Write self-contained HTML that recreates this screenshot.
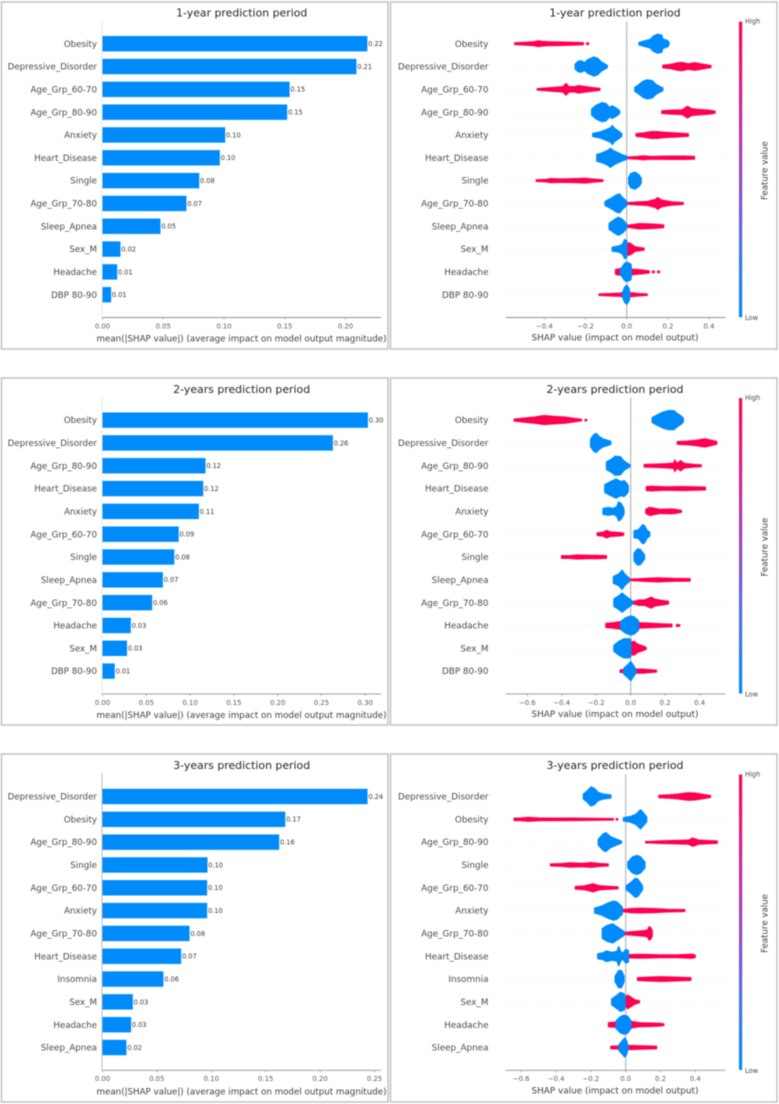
<!DOCTYPE html>
<html lang="en">
<head>
<meta charset="utf-8">
<title>SHAP feature importance by prediction period</title>
<style>
html,body{margin:0;padding:0;background:#fff;}
#chart{display:block;width:779px;height:1104px;filter:blur(0.4px);font-family:"DejaVu Sans","Liberation Sans",sans-serif;}
</style>
</head>
<body>
<svg id="chart" xmlns="http://www.w3.org/2000/svg" width="779" height="1104" viewBox="0 0 779 1104">
<defs>
<linearGradient id="cbar" x1="0" y1="1" x2="0" y2="0">
<stop offset="0" stop-color="#008bfb"/>
<stop offset="0.25" stop-color="#4b6fe6"/>
<stop offset="0.5" stop-color="#9a46bd"/>
<stop offset="0.75" stop-color="#d81f8a"/>
<stop offset="1" stop-color="#ff0051"/>
</linearGradient>
</defs>
</svg>
<script>
const features1 = ["Obesity","Depressive_Disorder","Age_Grp_60-70","Age_Grp_80-90","Anxiety","Heart_Disease","Single","Age_Grp_70-80","Sleep_Apnea","Sex_M","Headache","DBP 80-90"];
const features2 = ["Obesity","Depressive_Disorder","Age_Grp_80-90","Heart_Disease","Anxiety","Age_Grp_60-70","Single","Sleep_Apnea","Age_Grp_70-80","Headache","Sex_M","DBP 80-90"];
const features3 = ["Depressive_Disorder","Obesity","Age_Grp_80-90","Single","Age_Grp_60-70","Anxiety","Age_Grp_70-80","Heart_Disease","Insomnia","Sex_M","Headache","Sleep_Apnea"];

const means1 = [0.218,0.209,0.154,0.152,0.101,0.0966,0.0796,0.0691,0.0477,0.0148,0.0121,0.0071];
const means2 = [0.303,0.263,0.1176,0.115,0.110,0.087,0.082,0.069,0.0567,0.0323,0.028,0.014];
const means3 = [0.2436,0.168,0.1624,0.0965,0.0962,0.0962,0.08,0.0723,0.056,0.0279,0.0263,0.022];

const printed1 = ["0.22","0.21","0.15","0.15","0.10","0.10","0.08","0.07","0.05","0.02","0.01","0.01"];
const printed2 = ["0.30","0.26","0.12","0.12","0.11","0.09","0.08","0.07","0.06","0.03","0.03","0.01"];
const printed3 = ["0.24","0.17","0.16","0.10","0.10","0.10","0.08","0.07","0.06","0.03","0.03","0.02"];

const barTicks1 = [0,0.05,0.10,0.15,0.20];
const barTicks2 = [0,0.05,0.10,0.15,0.20,0.25,0.30];
const barTicks3 = [0,0.05,0.10,0.15,0.20,0.25];
const swarmTicks1 = [-0.4,-0.2,0,0.2,0.4];
const swarmTicks2 = [-0.6,-0.4,-0.2,0,0.2,0.4];
const swarmTicks3 = [-0.6,-0.4,-0.2,0,0.2,0.4];

/* Beeswarm outlines: each row is a list of [SHAP value, relative density]; density 0 separates clusters. */
const swarmHigh1 = [
[[-.545,.13],[-.5,.2],[-.45,.3],[-.43,.42],[-.41,.35],[-.38,.3],[-.3,.25],[-.25,.2],[-.21,.15],[-.2,0],[-.195,.15],[-.185,.12]],
[[.175,.2],[.21,.3],[.25,.55],[.27,.6],[.3,.4],[.33,.55],[.36,.4],[.39,.25],[.41,.15]],
[[-.435,.12],[-.4,.2],[-.35,.3],[-.31,.4],[-.295,.85],[-.28,.4],[-.25,.4],[-.235,.55],[-.2,.4],[-.16,.25],[-.13,.15]],
[[.17,.2],[.22,.3],[.27,.35],[.295,.85],[.315,.5],[.35,.4],[.4,.3],[.43,.15]],
[[.045,.2],[.08,.3],[.12,.5],[.15,.5],[.18,.4],[.25,.28],[.3,.2]],
[[0,.12],[.05,.2],[.08,.3],[.12,.2],[.2,.25],[.28,.25],[.33,.2]],
[[-.44,.12],[-.39,.2],[-.37,.3],[-.32,.25],[-.24,.3],[-.2,.35],[-.17,.25],[-.115,.12]],
[[0,.12],[.05,.22],[.1,.3],[.14,.6],[.15,.85],[.17,.5],[.22,.25],[.275,.15]],
[[0,.15],[.04,.3],[.06,.4],[.1,.35],[.14,.3],[.18,.2]],
[[0,.8],[.01,.9],[.02,.8],[.04,.35],[.06,.25],[.085,.15]],
[[-.055,.35],[-.03,.5],[0,.5],[.03,.4],[.07,.3],[.11,.15],[.118,0],[.125,.15],[.135,.12],[.142,0],[.15,.12],[.16,.12]],
[[-.135,.12],[-.08,.18],[-.03,.25],[0,.5],[.02,.3],[.06,.18],[.1,.12]]
];
const swarmLow1 = [
[[.06,.12],[.09,.3],[.115,.45],[.13,.8],[.15,1],[.17,.9],[.175,.5],[.2,.3],[.205,.12]],
[[-.25,.25],[-.235,.55],[-.22,.6],[-.205,.4],[-.19,.7],[-.16,1],[-.14,.85],[-.125,.5],[-.11,.3],[-.095,.12]],
[[.04,.2],[.06,.5],[.08,.85],[.1,1],[.125,.9],[.14,.55],[.16,.3],[.175,.15]],
[[-.17,.3],[-.15,.7],[-.12,1],[-.1,.9],[-.085,.5],[-.07,.65],[-.05,.4],[-.035,.15]],
[[-.165,.15],[-.13,.3],[-.1,.55],[-.075,.8],[-.07,1],[-.06,.7],[-.04,.4],[-.025,.15]],
[[-.145,.35],[-.12,.5],[-.09,.8],[-.08,1],[-.06,.7],[-.04,.5],[-.02,.3],[0,.15]],
[[.01,.3],[.02,.75],[.04,.9],[.06,.6],[.07,.25]],
[[-.105,.2],[-.07,.6],[-.05,.9],[-.035,1],[-.02,.6],[0,.2]],
[[-.085,.3],[-.06,.7],[-.04,.95],[-.02,.7],[0,.2]],
[[-.07,.2],[-.04,.3],[-.02,.5],[-.01,1],[0,.9]],
[[-.03,.25],[-.01,.9],[0,1],[.01,.95],[.02,.8],[.022,.5]],
[[-.02,.2],[-.01,.8],[0,1],[.01,.7],[.015,.2]]
];
const swarmHigh2 = [
[[-.677,.15],[-.62,.3],[-.56,.45],[-.52,.6],[-.5,.65],[-.45,.55],[-.38,.45],[-.34,.3],[-.285,.12],[-.275,0],[-.265,.12],[-.255,.1]],
[[.27,.2],[.33,.28],[.38,.4],[.43,.6],[.46,.45],[.5,.2]],
[[.078,.2],[.15,.25],[.2,.3],[.25,.4],[.255,.85],[.27,.35],[.29,.75],[.31,.35],[.37,.2],[.41,.15]],
[[.09,.3],[.12,.35],[.2,.25],[.3,.3],[.38,.25],[.435,.2]],
[[.087,.3],[.11,.6],[.13,.5],[.17,.3],[.23,.35],[.26,.3],[.295,.15]],
[[-.195,.2],[-.16,.3],[-.14,.55],[-.12,.35],[-.09,.3],[-.06,.25],[-.04,.15]],
[[-.402,.2],[-.35,.22],[-.31,.3],[-.25,.25],[-.2,.25],[-.14,.2]],
[[-.01,.1],[.05,.18],[.1,.25],[.16,.3],[.25,.22],[.345,.2]],
[[.01,.15],[.05,.4],[.08,.4],[.12,.8],[.14,.5],[.18,.35],[.22,.2]],
[[-.145,.3],[-.1,.4],[-.05,.6],[0,.6],[.05,.4],[.1,.35],[.18,.25],[.24,.2],[.252,0],[.265,.15],[.285,.12]],
[[0,.9],[.02,1],[.04,.6],[.07,.35],[.09,.15]],
[[-.062,.2],[-.03,.25],[0,.4],[.03,.3],[.07,.3],[.15,.15]]
];
const swarmLow2 = [
[[.125,.25],[.16,.6],[.19,.85],[.22,1],[.25,1],[.27,.7],[.29,.45],[.305,.2]],
[[-.232,.4],[-.215,.85],[-.2,1],[-.185,.7],[-.16,.4],[-.14,.3],[-.116,.15]],
[[-.14,.4],[-.11,.7],[-.09,1],[-.06,.95],[-.04,.5],[-.02,.25],[-.005,.1]],
[[-.15,.4],[-.12,.7],[-.085,1],[-.07,.85],[-.05,.7],[-.04,.85],[-.025,.6],[-.015,.3]],
[[-.16,.3],[-.13,.4],[-.1,.3],[-.08,.5],[-.07,1],[-.055,.8],[-.04,.3]],
[[.02,.35],[.045,.45],[.07,1],[.08,.9],[.095,.4],[.11,.2]],
[[.02,.4],[.04,.85],[.055,.8],[.08,.2]],
[[-.1,.35],[-.07,.6],[-.05,1],[-.035,.6],[-.01,.2]],
[[-.097,.4],[-.07,.7],[-.05,1],[-.03,.7],[0,.3],[.01,.15]],
[[-.058,.4],[-.03,.8],[0,1],[.02,.9],[.045,.5]],
[[-.097,.3],[-.07,.7],[-.04,1],[-.01,1],[0,.9]],
[[-.04,.3],[-.015,.7],[0,1],[.015,.6],[.03,.2]]
];
const swarmHigh3 = [
[[.19,.18],[.25,.25],[.3,.35],[.36,.55],[.4,.5],[.45,.3],[.488,.15]],
[[-.642,.18],[-.6,.2],[-.56,.3],[-.5,.2],[-.3,.18],[-.07,.12],[-.062,0],[-.055,.12],[-.045,.1]],
[[.115,.15],[.125,.1],[.2,.2],[.28,.25],[.36,.3],[.385,.6],[.42,.3],[.527,.18]],
[[-.433,.15],[-.37,.2],[-.32,.32],[-.25,.25],[-.2,.35],[-.15,.22],[-.1,.15]],
[[-.29,.2],[-.24,.28],[-.2,.5],[-.19,.6],[-.15,.3],[-.1,.22],[-.044,.15]],
[[-.02,.15],[.03,.3],[.08,.35],[.16,.3],[.24,.2],[.34,.15]],
[[-.01,.15],[.05,.3],[.1,.4],[.125,.5],[.135,1],[.145,.8],[.153,.4]],
[[.015,.25],[.1,.28],[.2,.22],[.3,.22],[.38,.3],[.4,.2]],
[[.067,.2],[.12,.28],[.2,.35],[.28,.3],[.32,.25],[.375,.2]],
[[-.004,.5],[.01,1],[.03,.7],[.05,.35],[.08,.15]],
[[-.1,.3],[-.05,.4],[.04,.45],[.08,.3],[.15,.25],[.2,.2],[.22,.12]],
[[-.086,.2],[-.02,.25],[.03,.3],[.1,.25],[.178,.2]]
];
const swarmLow3 = [
[[-.243,.25],[-.22,.6],[-.2,1],[-.18,.85],[-.16,.45],[-.13,.25],[-.086,.15]],
[[-.013,.15],[.03,.3],[.06,.55],[.085,1],[.1,.7],[.12,.25]],
[[-.157,.3],[-.13,.85],[-.115,1],[-.09,.6],[-.06,.35],[-.025,.1]],
[[.013,.3],[.04,.85],[.065,1],[.085,.85],[.11,.3]],
[[.004,.2],[.03,.55],[.055,1],[.07,.9],[.096,.2]],
[[-.178,.25],[-.14,.45],[-.1,.8],[-.07,1],[-.05,.9],[-.02,.35]],
[[-.134,.5],[-.11,.8],[-.075,1],[-.05,.7],[-.01,.2]],
[[-.16,.25],[-.13,.35],[-.11,.55],[-.08,.4],[-.05,.5],[-.04,1],[-.03,.5],[-.015,.3],[0,.7],[.015,.6]],
[[-.06,.3],[-.04,.9],[-.025,.9],[-.01,.3]],
[[-.08,.3],[-.05,.7],[-.03,1],[-.01,.85],[-.004,.5]],
[[-.054,.4],[-.03,.85],[-.01,1],[.01,.9],[.03,.4]],
[[-.038,.3],[-.015,.8],[-.005,1],[.005,.7],[.012,.2]]
];

const periods = ["1-year prediction period","2-years prediction period","3-years prediction period"];

const svg = document.getElementById('chart');
const NS = 'http://www.w3.org/2000/svg';
const BLUE = '#008bfb', RED = '#ff0051';

function mk(parent, tag, attrs, name, text) {
  const el = document.createElementNS(NS, tag);
  for (const k in attrs) el.setAttribute(k, attrs[k]);
  
  
  if (text !== undefined) el.textContent = text;
  parent.appendChild(el);
  return el;
}
function slug(s) { return s.toLowerCase().replace(/[^a-z0-9]+/g, '-'); }

function label(g, x, y, str, size, fill, anchor, name) {
  return mk(g, 'text', {x: x, y: y + 0.7, 'font-size': size, fill: fill, 'text-anchor': anchor, 'dominant-baseline': 'central'}, name, str);
}

function frame(g, x, y, w, h) {
  mk(g, 'rect', {x: x, y: y, width: w, height: h, fill: '#fff', stroke: '#bcbcbc', 'stroke-width': 1.4}, 'panel-frame');
}

function xAxis(g, xScale, ticks, digits, axisY, x1, x2) {
  mk(g, 'line', {x1: x1, x2: x2, y1: axisY, y2: axisY, stroke: '#8f8f8f', 'stroke-width': 0.9}, 'x-axis-line');
  ticks.forEach(t => {
    const x = xScale(t);
    mk(g, 'line', {x1: x, x2: x, y1: axisY, y2: axisY + 2.2, stroke: '#8f8f8f', 'stroke-width': 0.6}, 'x-tick-mark');
    const s = (t < 0 ? '\u2212' : '') + Math.abs(t).toFixed(digits);
    label(g, x, axisY + 8.2, s, 6.9, '#5c5c5c', 'middle', 'x-tick-label');
  });
}

function drawBarPanel(row, base, features, means, printed, ticks, pxPerUnit) {
  const g = mk(svg, 'g', {}, 'bar-panel-' + (row + 1));
  frame(g, 1.5, [2, 378, 754][row], 386.5, [347, 347, 348][row]);
  const x0 = 102.5;
  const xScale = v => x0 + v * pxPerUnit;
  const rowY = i => 43.7 + base + i * 22.82;
  const axisY = 317.5 + base;
  label(g, 241.7, 12.2 + base, periods[row], 10.9, '#262626', 'middle', 'bar-panel-title');
  mk(g, 'line', {x1: 102, x2: 102, y1: 20 + base, y2: axisY, stroke: row === 2 ? '#b5b5b5' : '#e6e6e6', 'stroke-width': 0.9}, 'y-axis-spine');
  features.forEach((f, i) => {
    const y = rowY(i);
    label(g, 97, y + 0.4, f, 8.7, '#4a4a4a', 'end', 'feature-label-' + slug(f));
    mk(g, 'rect', {x: x0, y: y - 7.7, width: xScale(means[i]) - x0, height: 15.4, fill: BLUE}, 'bar-' + slug(f));
    label(g, xScale(means[i]) + 0.8, y - 0.3, printed[i], 6.6, '#3a3a3a', 'start', 'bar-value-' + slug(f));
  });
  xAxis(g, xScale, ticks, 2, axisY, 102.5, 381);
  const xl = label(g, 241.5, 337.8 + base, 'mean(|SHAP value|) (average impact on model output magnitude)', 8.4, '#3f3f3f', 'middle', 'x-axis-title');
  xl.setAttribute('textLength', '290');
  xl.setAttribute('lengthAdjust', 'spacingAndGlyphs');
}

function outline(profile, xScale, y, H) {
  const segments = [];
  let cur = [];
  profile.forEach(p => {
    if (p[1] === 0) {
      if (cur.length) segments.push(cur);
      cur = [];
    } else {
      cur.push(p);
    }
  });
  if (cur.length) segments.push(cur);
  return segments.map(seg => {
    const top = seg.map(p => xScale(p[0]).toFixed(2) + ',' + (y - p[1] * H).toFixed(2));
    const bot = seg.slice().reverse().map(p => xScale(p[0]).toFixed(2) + ',' + (y + p[1] * H).toFixed(2));
    return 'M' + top.join('L') + 'L' + bot.join('L') + 'Z';
  }).join('');
}

function drawSwarmPanel(row, base, features, low, high, ticks, pxPerUnit, zeroX) {
  const g = mk(svg, 'g', {}, 'beeswarm-panel-' + (row + 1));
  frame(g, 390.5, [2, 378, 754][row], 386.5, [347, 347, 348][row]);
  const xScale = v => zeroX + v * pxPerUnit;
  const rowY = i => 43.7 + base + i * 22.82;
  const axisY = 317.5 + base;
  label(g, 615, 12.2 + base, periods[row], 10.9, '#262626', 'middle', 'beeswarm-panel-title');
  features.forEach((f, i) => {
    mk(g, 'line', {x1: 506, x2: 725, y1: rowY(i), y2: rowY(i), stroke: '#e8e8e8', 'stroke-width': 0.6, 'stroke-dasharray': '1 2'}, 'row-guide-' + slug(f));
  });
  mk(g, 'line', {x1: zeroX, x2: zeroX, y1: 21.5 + base, y2: axisY, stroke: '#bdbdbd', 'stroke-width': 1.3}, 'zero-line');
  features.forEach((f, i) => {
    const y = rowY(i);
    label(g, 488.5, y + 0.4, f, 8.8, '#4a4a4a', 'end', 'feature-label-' + slug(f));
    mk(g, 'path', {d: outline(high[i], xScale, y, 7), fill: RED, stroke: RED, 'stroke-width': 1, 'stroke-linejoin': 'round'}, 'swarm-high-' + slug(f));
    mk(g, 'path', {d: outline(low[i], xScale, y, 9.4), fill: BLUE, stroke: BLUE, 'stroke-width': 1.5, 'stroke-linejoin': 'round'}, 'swarm-low-' + slug(f));
  });
  xAxis(g, xScale, ticks, 1, axisY, 505.8, 725.5);
  label(g, 615, 337.8 + base, 'SHAP value (impact on model output)', 8.85, '#3f3f3f', 'middle', 'x-axis-title');
  mk(g, 'rect', {x: 739, y: 21.7 + base, width: 3.2, height: 295.5, fill: 'url(#cbar)'}, 'colorbar');
  label(g, 745, 21 + base, 'High', 6.6, '#4a4a4a', 'start', 'colorbar-high-label');
  label(g, 745, 317.3 + base, 'Low', 6.6, '#4a4a4a', 'start', 'colorbar-low-label');
  const t = label(g, 765.5, 170 + base, 'Feature value', 8.6, '#3f3f3f', 'middle', 'colorbar-title');
  t.setAttribute('transform', 'rotate(-90 765.5 ' + (170.7 + base) + ')');
}

drawBarPanel(0, 0, features1, means1, printed1, barTicks1, 1215);
drawBarPanel(1, 376.4, features2, means2, printed2, barTicks2, 876);
drawBarPanel(2, 752.8, features3, means3, printed3, barTicks3, 1088);
drawSwarmPanel(0, 0, features1, swarmLow1, swarmHigh1, swarmTicks1, 205.8, 626.7);
drawSwarmPanel(1, 376.4, features2, swarmLow2, swarmHigh2, swarmTicks2, 172.3, 630.7);
drawSwarmPanel(2, 752.8, features3, swarmLow3, swarmHigh3, swarmTicks3, 174, 625.7);
</script>
</body>
</html>
